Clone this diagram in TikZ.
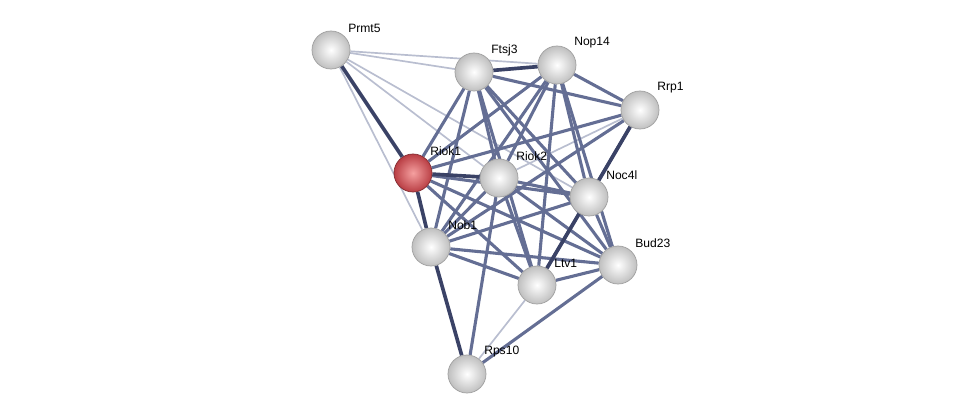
\documentclass[tikz,border=0pt]{standalone}
\usepackage{fontspec}
\setmainfont{Liberation Sans}
\usetikzlibrary{backgrounds}
\definecolor{edgedark}{RGB}{58,66,102}
\definecolor{edgemid}{RGB}{100,110,148}
\definecolor{edgelight}{RGB}{185,190,208}
\definecolor{qlight}{RGB}{245,160,160}
\definecolor{qdark}{RGB}{185,62,68}
\tikzset{
  prot/.style={circle,minimum size=0.95cm,inner sep=0pt,draw=gray!75,line width=0.5pt,inner color=white,outer color=gray!50},
  query/.style={prot,inner color=qlight,outer color=qdark,draw=qdark!70!black},
  lab/.style={anchor=west,font=\fontsize{8.6}{10}\selectfont,inner sep=0pt},
  strong/.style={draw=edgedark,line width=2.6pt},
  medium/.style={draw=edgemid,line width=2.2pt},
  weak/.style={draw=edgelight,line width=1.2pt},
}

\begin{document}
\begin{tikzpicture}[x=0.025cm,y=-0.025cm,line cap=round]
\useasboundingbox (0,0) rectangle (975,420);
\foreach \n/\x/\y in {Prmt5/331/50,Ftsj3/474/72,Nop14/557/65,Rrp1/640/110,Riok2/499/178,
  Noc4l/589/197,Nob1/431/247,Bud23/618/265,Ltv1/537/285,Rps10/467/374} {
  \node[prot] (\n) at (\x,\y) {};
  \node[lab] (\n-l) at (\x+17,\y-22) {\n};
}
\node[query] (Riok1) at (413,173) {};
\node[lab] (Riok1-l) at (430,151) {Riok1};
% interactions
\begin{scope}[on background layer]
\foreach \a/\b in {Prmt5/Ftsj3,Prmt5/Nop14,Prmt5/Nob1,Prmt5/Riok2,Prmt5/Noc4l,Rrp1/Riok2,Ltv1/Rps10}
  {\draw[weak] (\a) -- (\b);}
\foreach \a/\b in {Ftsj3/Rrp1,Ftsj3/Riok1,Ftsj3/Riok2,Ftsj3/Noc4l,Ftsj3/Nob1,Ftsj3/Ltv1,Ftsj3/Bud23,
  Nop14/Rrp1,Nop14/Riok1,Nop14/Riok2,Nop14/Noc4l,Nop14/Nob1,Nop14/Ltv1,Nop14/Bud23,
  Rrp1/Riok1,Rrp1/Nob1,Rrp1/Ltv1,Riok1/Noc4l,Riok1/Ltv1,Riok1/Bud23,
  Riok2/Noc4l,Riok2/Nob1,Riok2/Ltv1,Riok2/Bud23,Riok2/Rps10,
  Noc4l/Nob1,Noc4l/Bud23,Nob1/Ltv1,Nob1/Bud23,Ltv1/Bud23,Bud23/Rps10}
  {\draw[medium] (\a) -- (\b);}
\foreach \a/\b in {Prmt5/Riok1,Ftsj3/Nop14,Rrp1/Noc4l,Noc4l/Ltv1,Nob1/Rps10,Riok1/Nob1,Riok1/Riok2}
  {\draw[strong] (\a) -- (\b);}
\end{scope}
\end{tikzpicture}
\end{document}
